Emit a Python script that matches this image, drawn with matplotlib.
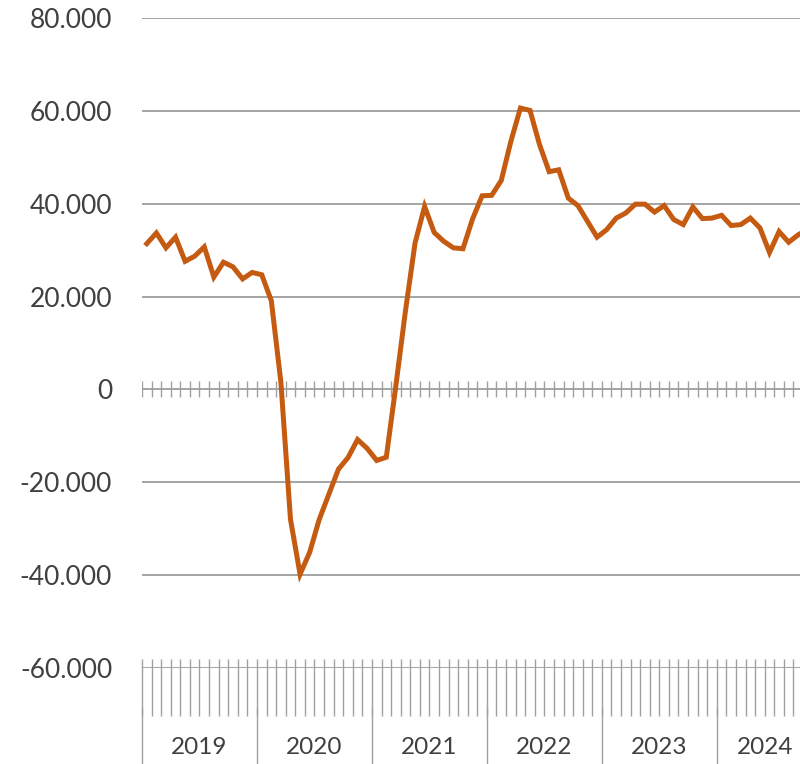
import matplotlib
matplotlib.use('Agg')
import matplotlib.pyplot as plt
import numpy as np
import pandas as pd

start_month = '2019-01'
# monthly values (in thousands)
vals_2019 = [31.4, 33.7, 30.5, 32.8, 27.6, 28.7, 30.7, 24.2, 27.4, 26.4, 23.8, 25.2]
vals_2020 = [24.7, 19.1, 1.5, -28.0, -39.8, -35.1, -28.0, -22.6, -17.2, -14.7, -10.8, -12.7]
vals_2021 = [-15.3, -14.6, 0.8, 16.9, 31.5, 39.4, 33.8, 31.9, 30.5, 30.3, 36.7, 41.7]
vals_2022 = [41.8, 45.0, 53.4, 60.6, 60.1, 52.7, 46.9, 47.3, 41.2, 39.6, 36.2, 32.8]
vals_2023 = [34.4, 36.9, 38.0, 39.9, 39.9, 38.2, 39.6, 36.6, 35.5, 39.3, 36.8, 36.9]
vals_2024 = [37.5, 35.3, 35.5, 36.9, 34.8, 29.5, 34.0, 31.7, 33.3, 34.5]
y_ticks = [-60000, -40000, -20000, 0, 20000, 40000, 60000, 80000]

values = np.array(vals_2019 + vals_2020 + vals_2021 + vals_2022 + vals_2023 + vals_2024) * 1000
n = len(values)
xs = np.arange(n)
dates = pd.date_range(start_month, periods=n, freq='MS')

LINE = '#C55A11'
GRID = '#8C8C8C'
TICK = '#A0A0A0'
TXT = '#404040'
FONT = 'Lato'

W, H = 800, 764
fig = plt.figure(figsize=(W / 100, H / 100), dpi=100)
ax_left, ax_right, ax_top, ax_bottom = 142, 800, 18, 668
ax = fig.add_axes([ax_left / W, (H - ax_bottom) / H, (ax_right - ax_left) / W, (ax_bottom - ax_top) / H])
ax.set_ylim(min(y_ticks), max(y_ticks))
month_px = 9.58
ax.set_xlim(-0.5, -0.5 + (ax_right - ax_left) / month_px)
upp = (max(y_ticks) - min(y_ticks)) / (ax_bottom - ax_top)  # data units per pixel

for s in ax.spines.values():
    s.set_visible(False)
ax.set_xticks([])

for v in y_ticks:
    ax.axhline(v, color=GRID, lw=1.1, zorder=1)

bounds = np.arange(n + 1) - 0.5
# ticks crossing zero line
ax.vlines(bounds, -8 * upp, 8 * upp, color=TICK, lw=1.0, zorder=1)
# ticks at bottom axis
ybase = min(y_ticks)
ax.vlines(bounds, ybase - 48 * upp, ybase + 9 * upp, color=TICK, lw=1.0, clip_on=False, zorder=1)
# year separators
year_starts = [i - 0.5 for i, d in enumerate(dates) if d.month == 1]
ax.vlines(year_starts, ybase - 39 * upp, ybase - 100 * upp, color=TICK, lw=1.0, clip_on=False, zorder=1)

ax.plot(xs, values, color=LINE, lw=3.6, solid_joinstyle='miter', zorder=3)

# year labels
for yr in sorted(set(dates.year)):
    idx = [i for i, d in enumerate(dates) if d.year == yr]
    ax.text(np.mean(idx), ybase - 79 * upp, str(yr), ha='center', va='center',
            fontsize=17.5, color=TXT, family=FONT, clip_on=False)

def fmt(v):
    return '0' if v == 0 else f"{v:,.0f}".replace(',', '.')

ax.set_yticks(y_ticks)
ax.set_yticklabels([fmt(v) for v in y_ticks], family=FONT, fontsize=19, color=TXT)
ax.tick_params(axis='y', length=0, pad=21.5)

fig.savefig('out.png', dpi=100)
